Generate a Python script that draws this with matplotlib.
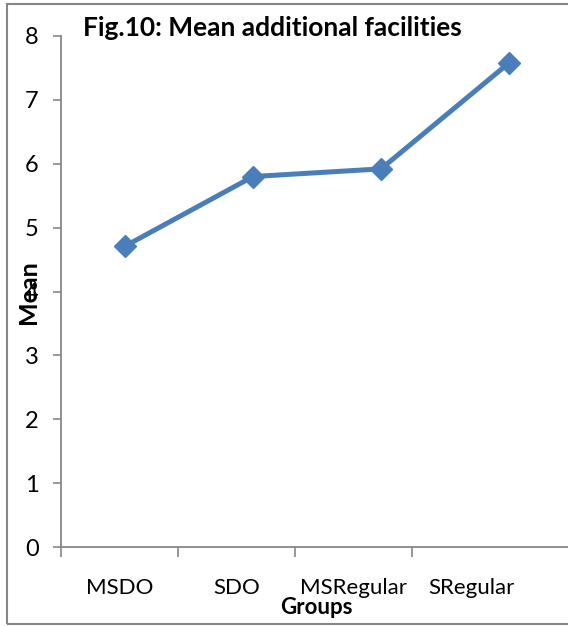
import matplotlib.pyplot as plt
from matplotlib.patches import Rectangle

# mean additional facilities per group
groups = ["MSDO", "SDO", "MSRegular", "SRegular"]
means = [4.71, 5.80, 5.92, 7.58]
y_ticks = [0, 1, 2, 3, 4, 5, 6, 7, 8]

plt.rcParams['font.family'] = ['Lato', 'DejaVu Sans']

fig = plt.figure(figsize=(5.68, 6.26), dpi=100)
ax = fig.add_axes([61 / 568, 1 - 547 / 626, 1 - 61 / 568, (547 - 36) / 626])

x = list(range(len(groups)))
ax.plot(x, means, color='#4A7EBB', linewidth=3.6, marker='D', markersize=11,
        markerfacecolor='#4A7EBB', markeredgecolor='#4A7EBB', clip_on=False, zorder=3)

ax.set_xlim(-0.5, 3.46)
ax.set_ylim(0, 8)

# category boundaries and label positions along the x axis
step = 0.915
bounds = [-0.5 + step * i for i in range(len(groups))]
centers = [b + step / 2 for b in bounds]
ax.set_xticks(bounds)
ax.set_xticklabels([])
ax.set_xticks(centers, minor=True)
ax.set_xticklabels(groups, minor=True, fontsize=16)
ax.tick_params(axis='x', which='major', direction='out', length=7, width=1.2, color='#868686')
ax.tick_params(axis='x', which='minor', length=0, pad=22)

ax.set_yticks(y_ticks)
ax.set_yticklabels([str(v) for v in y_ticks], fontsize=17)
ax.tick_params(axis='y', direction='out', length=6, width=1.2, color='#868686', pad=10)

for side in ['top', 'right']:
    ax.spines[side].set_visible(False)
for side in ['left', 'bottom']:
    ax.spines[side].set_color('#868686')
    ax.spines[side].set_linewidth(1.3)

fig.text(83 / 568, 1 - 28 / 626, "Fig.10: Mean additional facilities", fontsize=19,
         fontweight='bold', ha='left', va='center')
fig.text(29 / 568, 1 - 292 / 626, "Mean", fontsize=18, fontweight='bold',
         rotation=90, ha='center', va='center')
fig.text(316 / 568, 1 - 607 / 626, "Groups", fontsize=16, fontweight='bold',
         ha='center', va='center')

# outer chart frame
fig.patches.append(Rectangle((7 / 568, 2 / 626), 1.0, 620 / 626, transform=fig.transFigure,
                             fill=False, edgecolor='#868686', linewidth=1.5))

fig.savefig('out.png', dpi=100)
